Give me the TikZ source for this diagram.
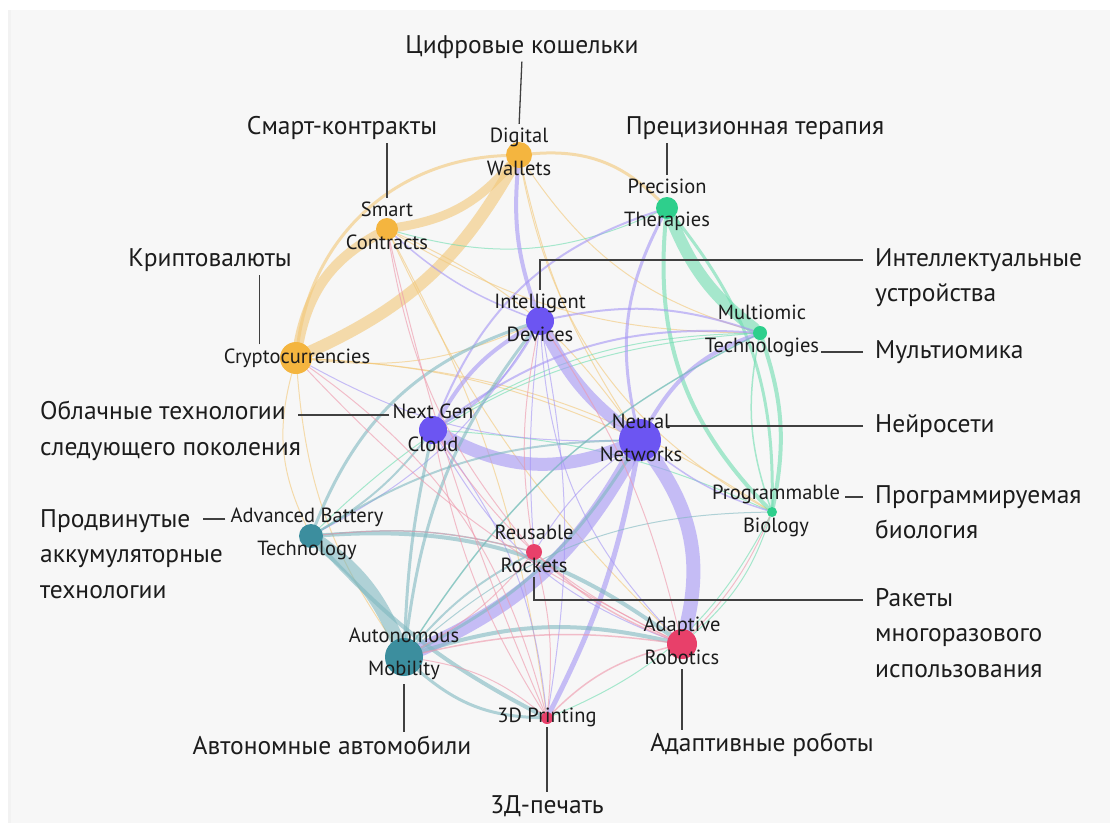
\documentclass[tikz,border=0pt]{standalone}
\usepackage{fontspec}
\setmainfont{PT Sans}
\usetikzlibrary{positioning, backgrounds, calc}
\definecolor{bgGrey}{HTML}{F7F7F7}
\definecolor{cOr}{HTML}{F4B53F}
\definecolor{cGr}{HTML}{2ECF8C}
\definecolor{cPu}{HTML}{6C55F2}
\definecolor{cTe}{HTML}{3C8E9E}
\definecolor{cRe}{HTML}{E8406A}
\definecolor{eO}{HTML}{F3C878}
\definecolor{eG}{HTML}{6FDDB0}
\definecolor{eP}{HTML}{A595F5}
\definecolor{eT}{HTML}{7FB8C0}
\definecolor{eR}{HTML}{EE96AA}
\definecolor{inkDark}{HTML}{1C1C1C}

\tikzset{
  hub/.style={circle, inner sep=0pt, draw=none},
  tag/.style={font=\fontsize{20.5}{33}\selectfont, align=center, text=inkDark, inner sep=1pt},
  rulbl/.style={font=\fontsize{25.5}{35.5}\selectfont, text=inkDark, inner sep=0pt},
  lead/.style={draw=black!75, line width=1.3pt},
  edge/.style={draw opacity=0.6, line cap=round}
}

\begin{document}
\begin{tikzpicture}[x=1pt, y=-1pt]
    \useasboundingbox (0,0) rectangle (1110,823);

    % Background panel
    \begin{scope}[on background layer]
        \fill[white] (0,0) rectangle (1110,823);
        \fill[bgGrey] (8,10) rectangle (1110,823);
        \fill[black!5] (8,10) rectangle (11,823);
    \end{scope}

    % Technology hubs
    \node[hub, fill=cOr, minimum size=26] (dw) at (519,155) {};
    \node[hub, fill=cOr, minimum size=22] (sc) at (387,229) {};
    \node[hub, fill=cOr, minimum size=32] (cr) at (296,358) {};
    \node[hub, fill=cGr, minimum size=22] (pt) at (667,208) {};
    \node[hub, fill=cGr, minimum size=14] (mt) at (760,333) {};
    \node[hub, fill=cPu, minimum size=28] (id) at (540,321) {};
    \node[hub, fill=cPu, minimum size=28] (ng) at (433,430) {};
    \node[hub, fill=cPu, minimum size=42] (nn) at (640,440) {};
    \node[hub, fill=cGr, minimum size=10] (pb) at (772,512) {};
    \node[hub, fill=cTe, minimum size=24] (ab) at (311,536) {};
    \node[hub, fill=cRe, minimum size=16] (rr) at (534,552) {};
    \node[hub, fill=cTe, minimum size=38] (am) at (404,657) {};
    \node[hub, fill=cRe, minimum size=30] (ar) at (682,644) {};
    \node[hub, fill=cRe, minimum size=12] (tp) at (547,718) {};

    % Links between hubs
    \begin{scope}[on background layer]
    \foreach \s/\d/\w/\b/\c in {
        cr/sc/10/25/eO, sc/dw/9/-20/eO, cr/dw/12/-18/eO, cr/dw/3/40/eO,
        dw/pt/3/25/eO, dw/mt/1/-20/eO, dw/nn/1/-10/eO, dw/pb/1/-25/eO,
        sc/nn/1/15/eO, sc/mt/1/-15/eO, sc/tp/1/10/eO, sc/ar/1/-10/eO,
        cr/id/1/-15/eO, cr/ab/1/-20/eO, cr/am/1/-15/eO, cr/nn/1/10/eO,
        cr/pb/1/15/eO,
        pt/mt/12/-15/eG, pt/pb/4/-25/eG, pt/pb/3/20/eG, mt/pb/4/15/eG,
        mt/pb/1.5/-15/eG, mt/ng/1/-15/eG, mt/am/1/-15/eG, mt/ab/1/-20/eG,
        pb/ar/1/15/eG, pb/tp/1/20/eG, pb/ng/1/-10/eG, pt/sc/1/20/eG,
        id/nn/12/-12/eP, ng/nn/13/-25/eP, nn/am/14/18/eP, nn/ar/14/25/eP,
        nn/tp/5/8/eP, dw/id/4/-12/eP, nn/mt/4/20/eP, pt/nn/3/-20/eP,
        ng/id/4/15/eP, ng/id/2/-15/eP, id/mt/2/15/eP, ng/mt/2/20/eP,
        ng/pt/2/25/eP, id/rr/1/-5/eP, id/tp/1/10/eP, ng/ar/1/-20/eP,
        ng/tp/1/15/eP, sc/id/1.5/-10/eP, nn/pb/1.5/-10/eP, id/ab/1/15/eP,
        nn/rr/1/-10/eP, nn/cr/1/15/eP, id/ar/1/-20/eP,
        ab/am/14/15/eT, ab/ar/4/20/eT, ab/tp/4/-10/eT, ab/id/3/25/eT,
        am/id/3/15/eT, am/nn/3/-15/eT, am/ar/4/15/eT, am/tp/3/-20/eT,
        am/rr/2/10/eT, ab/nn/2/15/eT, ab/ng/2/-10/eT, am/ng/3/5/eT,
        am/mt/1.5/15/eT, ab/rr/1.5/10/eT, am/pb/1/20/eT,
        rr/ar/1.5/-10/eR, rr/tp/1/10/eR, rr/am/1/10/eR, tp/ar/1.5/15/eR,
        tp/am/1/-15/eR, ar/am/1.5/-10/eR, rr/sc/1/15/eR, rr/id/1/10/eR,
        tp/cr/1/-20/eR, ar/ng/1/15/eR, tp/ng/1/10/eR, ar/id/1/-10/eR,
        rr/ab/1/-10/eR, ar/pb/1/-10/eR, tp/sc/1/5/eR, ar/cr/1/10/eR} {
        \draw[edge, draw=\c, line width=\w] (\s) to[bend left=\b] (\d);
    }
    \end{scope}

    % English labels
    \node[tag] (enDW) at (519,152) {Digital\\Wallets};
    \node[tag] (enSC) at (387,226) {Smart\\Contracts};
    \node[tag] (enCR) at (297,358) {Cryptocurrencies};
    \node[tag] (enPT) at (667,205) {Precision\\Therapies};
    \node[tag] (enMT) at (762,331) {Multiomic\\Technologies};
    \node[tag] (enID) at (540,318) {Intelligent\\Devices};
    \node[tag] (enNG) at (433,428) {Next Gen\\Cloud};
    \node[tag] (enNN) at (641,438) {Neural\\Networks};
    \node[tag] (enPB) at (776,511) {Programmable\\Biology};
    \node[tag] (enAB) at (307,534) {Advanced Battery\\Technology};
    \node[tag] (enRR) at (534,549) {Reusable\\Rockets};
    \node[tag] (enAM) at (404,654) {Autonomous\\Mobility};
    \node[tag] (enAR) at (682,641) {Adaptive\\Robotics};
    \node[tag] (enTP) at (547,717) {3D Printing};

    % Russian labels
    \node[rulbl] (ruDW) at (522,47) {Цифровые кошельки};
    \node[rulbl] (ruSC) at (342,128) {Смарт-контракты};
    \node[rulbl] (ruCR) at (210,260) {Криптовалюты};
    \node[rulbl] (ruPT) at (755,128) {Прецизионная терапия};
    \node[rulbl, anchor=north west, align=left] (ruID) at (875,248) {Интеллектуальные\\устройства};
    \node[rulbl, anchor=west] (ruMT) at (875,352) {Мультиомика};
    \node[rulbl, anchor=west] (ruNN) at (875,426) {Нейросети};
    \node[rulbl, anchor=north west, align=left] (ruPB) at (875,485) {Программируемая\\биология};
    \node[rulbl, anchor=north west, align=left] (ruRR) at (875,588) {Ракеты\\многоразового\\использования};
    \node[rulbl] (ruAR) at (762,745) {Адаптивные роботы};
    \node[rulbl] (ruTP) at (547,806) {3Д-печать};
    \node[rulbl] (ruAM) at (332,745) {Автономные автомобили};
    \node[rulbl, anchor=north west, align=left] (ruAB) at (40,509) {Продвинутые\\аккумуляторные\\технологии};
    \node[rulbl, anchor=north west, align=left] (ruNG) at (40,401) {Облачные технологии\\следующего поколения};

    % Leader lines
    \draw[lead, shorten <=3pt, shorten >=3pt] (ruDW.south) -- (enDW.north);
    \draw[lead, shorten <=3pt, shorten >=3pt] (enSC.north) -- (enSC.north |- ruSC.south);
    \draw[lead, shorten <=3pt, shorten >=3pt] ([xshift=37pt]enCR.north west) -- ([xshift=37pt]enCR.north west |- ruCR.south);
    \draw[lead, shorten <=3pt, shorten >=3pt] (enPT.north) -- (enPT.north |- ruPT.south);
    \draw[lead, shorten <=3pt, shorten >=12pt] (enID.north) |- ([yshift=-12pt]ruID.north west);
    \draw[lead, shorten <=12pt] (ruMT.west) -- ++(-54,0);
    \draw[lead, shorten <=12pt, shorten >=6pt] (ruNN.west) -- (nn.east |- ruNN.west);
    \draw[lead, shorten <=12pt] ([yshift=-12pt]ruPB.north west) -- ++(-30,0);
    \draw[lead, shorten <=3pt, shorten >=12pt] (enRR.south) |- ([yshift=-12pt]ruRR.north west);
    \draw[lead, shorten <=3pt, shorten >=3pt] (enAR.south) -- (enAR.south |- ruAR.north);
    \draw[lead, shorten <=3pt, shorten >=3pt] (tp.south) -- (ruTP.north);
    \draw[lead, shorten <=3pt, shorten >=3pt] (enAM.south) -- (enAM.south |- ruAM.north);
    \draw[lead, shorten <=4pt, shorten >=4pt] ([yshift=-12pt]enAB.north west) -- ++(-30,0);
    \draw[lead, shorten <=2pt, shorten >=5pt] ([yshift=-12pt]enNG.north west) -- ++(-98,0);
\end{tikzpicture}
\end{document}
